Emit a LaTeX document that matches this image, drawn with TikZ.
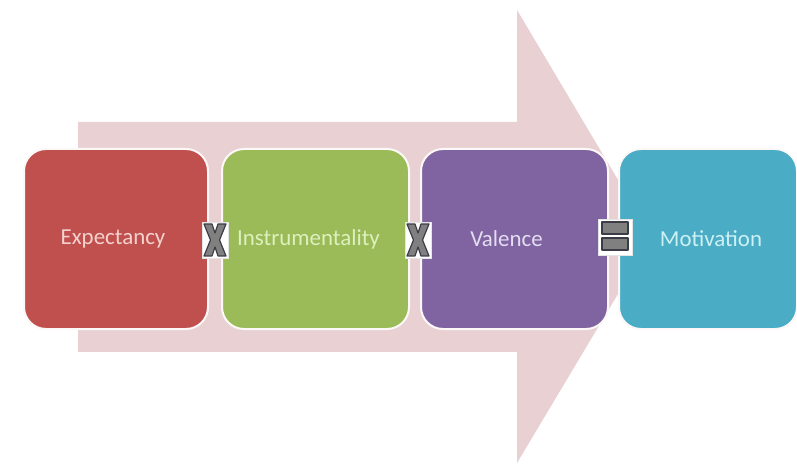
\documentclass[tikz,border=0pt]{standalone}
\usepackage{fontspec}
\setmainfont{Carlito}
\definecolor{arrowpink}{RGB}{232,208,211}
\definecolor{cred}{RGB}{192,80,77}
\definecolor{cgreen}{RGB}{155,187,89}
\definecolor{cpurple}{RGB}{128,100,162}
\definecolor{cblue}{RGB}{75,172,198}
\definecolor{tred}{RGB}{244,210,206}
\definecolor{tgreen}{RGB}{222,240,190}
\definecolor{tpurple}{RGB}{228,220,240}
\definecolor{tblue}{RGB}{205,240,245}
\definecolor{symgray}{RGB}{128,128,128}
\definecolor{symdark}{RGB}{60,60,70}
\begin{document}
\begin{tikzpicture}[x=1bp,y=-1bp,
  box/.style={draw=white!85!arrowpink, line width=2bp, rounded corners=22bp,
    minimum height=180bp, anchor=north west, inner sep=0pt,
    font=\fontsize{23}{26}\selectfont},
  symbg/.style={fill=white, draw=white!80!gray, line width=0.6bp},
  symfill/.style={fill=symgray, draw=symdark, line width=1.2bp, line join=round}]
\useasboundingbox (0,0) rectangle (797,465);
% big background arrow
\fill[arrowpink] (78,122) -- (517,122) -- (517,10) -- (652,237) -- (517,463) -- (517,352) -- (78,352) -- cycle;
% boxes
\node[box, fill=cred, text=tred, minimum width=184bp] (e) at (23,148) {\hspace*{-6bp}Expectancy};
\node[box, fill=cgreen, text=tgreen, minimum width=187bp] (i) at (221,148) {\hspace*{-14bp}Instrumentality};
\node[box, fill=cpurple, text=tpurple, minimum width=187bp] (v) at (420,148) {\hspace*{-16bp}Valence};
\node[box, fill=cblue, text=tblue, minimum width=178bp] (m) at (618,148) {\hspace*{6bp}Motivation};
% X symbols
\foreach \cx/\nm in {215/x1, 418/x2}{
  \coordinate (\nm) at (\cx,240);
  \fill[symbg] ([xshift=-13bp,yshift=-18bp]\nm) rectangle ([xshift=13bp,yshift=18bp]\nm);
  \path[symfill] ([xshift=-11bp,yshift=-16bp]\nm) -- ([xshift=-3bp,yshift=-16bp]\nm)
    -- ([xshift=0bp,yshift=-7bp]\nm) -- ([xshift=3bp,yshift=-16bp]\nm)
    -- ([xshift=11bp,yshift=-16bp]\nm) -- ([xshift=4.5bp,yshift=0bp]\nm)
    -- ([xshift=11bp,yshift=16bp]\nm) -- ([xshift=3bp,yshift=16bp]\nm)
    -- ([xshift=0bp,yshift=7bp]\nm) -- ([xshift=-3bp,yshift=16bp]\nm)
    -- ([xshift=-11bp,yshift=16bp]\nm) -- ([xshift=-4.5bp,yshift=0bp]\nm) -- cycle;
}
% equals symbol
\coordinate (eq) at (615,237);
\fill[symbg] ([xshift=-17bp,yshift=-18bp]eq) rectangle ([xshift=17bp,yshift=18bp]eq);
\path[symfill] ([xshift=-13bp,yshift=-13bp]eq) rectangle ([xshift=13bp,yshift=-1bp]eq);
\path[symfill] ([xshift=-13bp,yshift=3bp]eq) rectangle ([xshift=13bp,yshift=15bp]eq);
\end{tikzpicture}
\end{document}
